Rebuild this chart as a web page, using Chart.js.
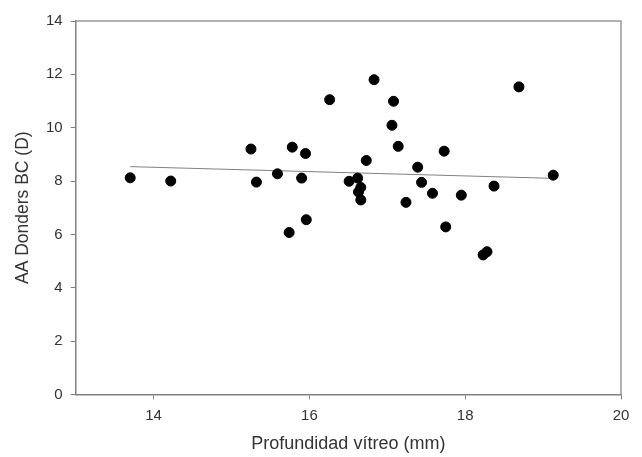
<!DOCTYPE html>
<html>
<head>
<meta charset="utf-8">
<script src="https://cdn.jsdelivr.net/npm/chart.js@4"></script>
<style>
  body { margin: 0; background: #fff; }
  canvas { display: block; }
</style>
</head>
<body>
<canvas id="chart" width="642" height="457"></canvas>
<script>
// Profundidad vítreo (mm)
const vitreo = [13.70, 14.22, 15.25, 15.32, 15.59, 15.74, 15.78, 15.90, 15.95, 15.96,
    16.26, 16.51, 16.62, 16.63, 16.66, 16.66, 16.73, 16.83, 17.06, 17.08,
    17.14, 17.24, 17.39, 17.44, 17.58, 17.73, 17.75, 17.95, 18.23, 18.28,
    18.37, 18.69, 19.13];
// AA Donders BC (D)
const donders = [8.12, 8.00, 9.20, 7.96, 8.27, 6.07, 9.27, 8.11, 9.03, 6.55,
    11.05, 7.99, 8.11, 7.59, 7.76, 7.29, 8.77, 11.80, 10.09, 10.99,
    9.30, 7.20, 8.52, 7.95, 7.54, 9.12, 6.28, 7.47, 5.23, 5.35,
    7.81, 11.53, 8.22];
// regression line end points
const fitX = [13.70, 19.13];
const fitY = [8.54, 8.10];

const xTicks = [14, 16, 18, 20];
const yTicks = [0, 2, 4, 6, 8, 10, 12, 14];

const frame = {
    id: 'frame',
    afterDraw(chart) {
        const a = chart.chartArea, ctx = chart.ctx;
        ctx.save();
        ctx.strokeStyle = '#999';
        ctx.lineWidth = 1.5;
        ctx.beginPath();
        ctx.moveTo(a.left, a.top);
        ctx.lineTo(a.right, a.top);
        ctx.lineTo(a.right, a.bottom);
        ctx.stroke();
        ctx.restore();
    }
};

new Chart(document.getElementById('chart').getContext('2d'), {
    type: 'scatter',
    data: {
        datasets: [{
            data: vitreo.map((x, i) => ({ x: x, y: donders[i] })),
            backgroundColor: '#000',
            borderColor: '#000',
            pointRadius: 5,
            pointHoverRadius: 5
        }, {
            type: 'line',
            data: fitX.map((x, i) => ({ x: x, y: fitY[i] })),
            borderColor: '#808080',
            borderWidth: 1,
            pointRadius: 0,
            fill: false
        }]
    },
    options: {
        responsive: false,
        animation: false,
        layout: { padding: { top: 21, right: 21, left: 13, bottom: 2 } },
        plugins: {
            legend: { display: false },
            tooltip: { enabled: false }
        },
        scales: {
            x: {
                type: 'linear',
                min: 13,
                max: 20,
                afterBuildTicks: (axis) => { axis.ticks = xTicks.map(v => ({ value: v })); },
                grid: { drawOnChartArea: false, drawTicks: true, tickLength: 5, color: '#808080' },
                border: { display: true, color: '#808080', width: 1.5 },
                ticks: { color: '#333', padding: 7, font: { family: 'Liberation Sans', size: 15 } },
                title: {
                    display: true,
                    text: 'Profundidad vítreo (mm)',
                    color: '#333',
                    padding: { top: 2, bottom: 0 },
                    font: { family: 'Liberation Sans', size: 18 }
                }
            },
            y: {
                min: 0,
                max: 14,
                afterBuildTicks: (axis) => { axis.ticks = yTicks.map(v => ({ value: v })); },
                grid: { drawOnChartArea: false, drawTicks: true, tickLength: 5, color: '#808080' },
                border: { display: true, color: '#808080', width: 1.5 },
                ticks: { color: '#333', padding: 8, font: { family: 'Liberation Sans', size: 15 } },
                title: {
                    display: true,
                    text: 'AA Donders BC (D)',
                    color: '#333',
                    padding: { top: 0, bottom: 4 },
                    font: { family: 'Liberation Sans', size: 17.5 }
                }
            }
        }
    },
    plugins: [frame]
});
</script>
</body>
</html>
